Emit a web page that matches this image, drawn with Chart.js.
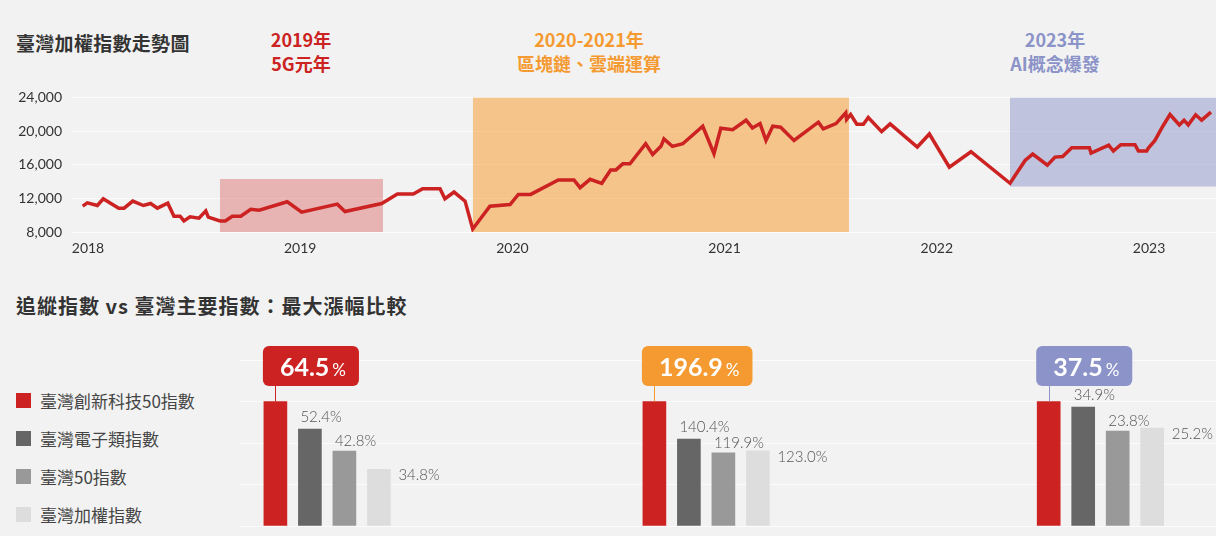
<!DOCTYPE html>
<html lang="zh-Hant">
<head>
<meta charset="utf-8">
<script src="https://cdn.jsdelivr.net/npm/chart.js@4.4.1/dist/chart.umd.min.js"></script>
<style>
  body { margin: 0; background: #f2f2f2; font-family: "Noto Sans CJK TC", "Noto Sans", sans-serif; }
  #page { position: relative; width: 1216px; height: 536px; overflow: hidden; }
  .title { position: absolute; left: 16px; font-weight: 700; color: #333; line-height: 24px; white-space: nowrap; }
  .period { position: absolute; top: 27px; font-size: 18px; font-weight: 700; line-height: 24px; text-align: center; white-space: nowrap; transform: translateX(-50%); }
  .legend { position: absolute; left: 16px; top: 388px; }
  .legend div { display: flex; align-items: center; height: 24px; margin-bottom: 14px; font-size: 17px; color: #444; }
  .legend span { display: inline-block; width: 15px; height: 15px; margin-right: 9px; }
  canvas { position: absolute; }
</style>
</head>
<body>
<div id="page">
  <div class="title" style="top:31px;font-size:19px;letter-spacing:0.3px">臺灣加權指數走勢圖</div>
  <div id="periods"></div>
  <canvas id="trend" width="1216" height="181" style="left:0;top:79px"></canvas>

  <div class="title" style="top:294px;font-size:20px;letter-spacing:1px">追縱指數 vs 臺灣主要指數：最大漲幅比較</div>
  <div class="legend" id="legend"></div>
  <canvas id="gain0" width="397" height="188" style="left:240px;top:340px"></canvas>
  <canvas id="gain1" width="388" height="188" style="left:637px;top:340px"></canvas>
  <canvas id="gain2" width="191" height="188" style="left:1025px;top:340px"></canvas>
</div>
<script>
// 臺灣加權指數 (decimal year, index level)
const trendDates = [
  2017.975, 2017.997, 2018.044, 2018.072, 2018.108, 2018.145, 2018.170, 2018.211, 2018.261, 2018.295,
  2018.327, 2018.376, 2018.405, 2018.434, 2018.452, 2018.481, 2018.523, 2018.555, 2018.567, 2018.622,
  2018.647, 2018.680, 2018.720, 2018.767, 2018.807, 2018.939, 2019.007, 2019.175, 2019.211, 2019.384,
  2019.458, 2019.533, 2019.577, 2019.659, 2019.682, 2019.725, 2019.777, 2019.813, 2019.894, 2019.989,
  2020.028, 2020.086, 2020.216, 2020.290, 2020.319, 2020.366, 2020.421, 2020.463, 2020.488, 2020.520,
  2020.554, 2020.628, 2020.661, 2020.700, 2020.714, 2020.754, 2020.803, 2020.897, 2020.950, 2020.982,
  2021.038, 2021.101, 2021.131, 2021.167, 2021.195, 2021.227, 2021.264, 2021.327, 2021.442, 2021.465,
  2021.525, 2021.571, 2021.575, 2021.594, 2021.623, 2021.654, 2021.677, 2021.740, 2021.780, 2021.908,
  2021.965, 2022.059, 2022.161, 2022.345, 2022.416, 2022.452, 2022.521, 2022.557, 2022.593, 2022.636,
  2022.719, 2022.727, 2022.810, 2022.832, 2022.867, 2022.934, 2022.950, 2022.989, 2022.997, 2023.028,
  2023.065, 2023.099, 2023.143, 2023.165, 2023.185, 2023.220, 2023.248, 2023.292,
];
const trendValues = [
  11070, 11470, 11150, 11950, 11390, 10830, 10830, 11670, 11150, 11390,
  10830, 11430, 9880, 9880, 9320, 9800, 9640, 10510, 9760, 9320,
  9320, 9880, 9880, 10710, 10590, 11590, 10350, 11310, 10430, 11390,
  12510, 12510, 13150, 13150, 11950, 12750, 11670, 8360, 11070, 11270,
  12470, 12470, 14190, 14190, 13270, 14260, 13790, 15380, 15380, 16100,
  16100, 18490, 17220, 18180, 19050, 18180, 18490, 20570, 17300, 20330,
  20170, 21290, 20370, 20890, 18890, 20570, 20450, 18890, 21050, 20250,
  20890, 22170, 21370, 21970, 20810, 20810, 21610, 19930, 20850, 18100,
  19650, 15700, 17540, 13790, 16500, 17260, 15940, 16900, 16980, 18020,
  18020, 17380, 18330, 17620, 18370, 18370, 17620, 17620, 17980, 18890,
  20570, 21970, 20730, 21290, 20730, 21930, 21290, 22250,
];

// highlighted periods
const periodTitles = [["2019年", "5G元年"], ["2020-2021年", "區塊鏈、雲端運算"], ["2023年", "AI概念爆發"]];
const periodStart = [2018.622, 2019.814, 2022.345];
const periodEnd = [2019.390, 2021.586, 2023.316];
const periodLow = [8000, 8000, 13400];
const periodHigh = [14300, 24000, 24000];
const periodColors = ["#cc2222", "#f59a30", "#8b93c8"];
const periodFills = ["rgba(204,34,34,0.3)", "rgba(245,154,48,0.53)", "rgba(139,147,200,0.5)"];

// max gain per period (%)
const indexNames = ["臺灣創新科技50指數", "臺灣電子類指數", "臺灣50指數", "臺灣加權指數"];
const indexColors = ["#cc2222", "#666666", "#999999", "#dddddd"];
const gains2019 = [64.5, 52.4, 42.8, 34.8];
const gains2020 = [196.9, 140.4, 119.9, 123.0];
const gains2023 = [37.5, 34.9, 23.8, 25.2];

Chart.defaults.font.family = "Lato, 'Noto Sans', sans-serif";

const gridColor = "#fbfbfb";
const periodLabelX = [301, 589, 1055];

function renderPeriodTitles() {
  document.getElementById("periods").innerHTML = periodTitles
    .map((t, i) => `<div class="period" style="left:${periodLabelX[i]}px;color:${periodColors[i]}">${t[0]}<br>${t[1]}</div>`)
    .join("");
}

function renderLegend() {
  document.getElementById("legend").innerHTML = indexNames
    .map((n, i) => `<div><span style="background:${indexColors[i]}"></span>${n}</div>`)
    .join("");
}

const periodBoxes = {
  id: "periodBoxes",
  beforeDatasetsDraw(chart) {
    const { ctx, chartArea, scales } = chart;
    ctx.save();
    ctx.beginPath();
    ctx.rect(chartArea.left, chartArea.top, chartArea.width, chartArea.height);
    ctx.clip();
    periodStart.forEach((s, i) => {
      const x0 = scales.x.getPixelForValue(s);
      const x1 = scales.x.getPixelForValue(periodEnd[i]);
      const y0 = scales.y.getPixelForValue(periodHigh[i]);
      const y1 = scales.y.getPixelForValue(periodLow[i]);
      ctx.fillStyle = periodFills[i];
      ctx.fillRect(x0, y0, x1 - x0, y1 - y0);
    });
    ctx.restore();
  },
};

function makeTrendChart() {
  new Chart(document.getElementById("trend"), {
    type: "line",
    data: {
      datasets: [{
        data: trendDates.map((d, i) => ({ x: d, y: trendValues[i] })),
        borderColor: "#cc2222",
        borderWidth: 3.5,
        pointRadius: 0,
        tension: 0,
      }],
    },
    options: {
      responsive: false,
      animation: false,
      layout: { padding: { top: 10, right: 0, bottom: 0, left: 0 } },
      plugins: { legend: { display: false }, tooltip: { enabled: false } },
      scales: {
        x: {
          type: "linear",
          min: 2017.9246,
          max: 2023.3157,
          grid: { display: false },
          border: { display: false },
          ticks: { stepSize: 1, includeBounds: false, padding: 0, color: "#333", font: { size: 14 }, callback: (v) => String(v) },
          afterFit: (s) => { s.height = 28; },
        },
        y: {
          min: 8000,
          max: 24000,
          grid: { color: gridColor, drawTicks: false },
          border: { display: false },
          ticks: { stepSize: 4000, padding: 10, color: "#333", font: { size: 14 }, callback: (v) => v.toLocaleString("en-US") },
          afterFit: (s) => { s.width = 72; },
        },
      },
    },
    plugins: [periodBoxes],
  });
}

const gainLabels = {
  id: "gainLabels",
  afterDatasetsDraw(chart, args, opts) {
    const { ctx } = chart;
    const bars = chart.getDatasetMeta(0).data;
    const values = chart.data.datasets[0].data.map((p) => p.y);
    ctx.save();
    ctx.font = "300 15px Lato, sans-serif";
    ctx.fillStyle = "#555";
    ctx.textBaseline = "middle";
    ctx.textAlign = "left";
    bars.forEach((bar, i) => {
      if (i === 0) return;
      const text = values[i].toFixed(1) + "%";
      const half = bar.width / 2;
      if (i === 3) ctx.fillText(text, bar.x + half + 8, bar.y + 6);
      else ctx.fillText(text, bar.x - half + 2, bar.y - (i === 1 ? 12 : 10));
    });

    // callout on the tracked index
    const red = bars[0];
    const big = values[0].toFixed(1);
    ctx.font = "bold 25px Lato, sans-serif";
    const bw = ctx.measureText(big).width;
    ctx.font = "17px Lato, sans-serif";
    const pw = ctx.measureText("%").width;
    const boxW = 17 + bw + 3 + pw + 13;
    const bx = red.x - red.width / 2 - 1;
    const by = 6;
    const bh = 40;
    ctx.strokeStyle = opts.color;
    ctx.lineWidth = 1;
    ctx.beginPath();
    ctx.moveTo(Math.round(red.x) + 0.5, by + bh);
    ctx.lineTo(Math.round(red.x) + 0.5, red.y);
    ctx.stroke();
    ctx.fillStyle = opts.color;
    ctx.beginPath();
    ctx.roundRect(bx, by, boxW, bh, 6);
    ctx.fill();
    ctx.fillStyle = "#fff";
    ctx.textBaseline = "alphabetic";
    ctx.font = "bold 25px Lato, sans-serif";
    ctx.fillText(big, bx + 17, by + 30);
    ctx.font = "17px Lato, sans-serif";
    ctx.fillText("%", bx + 17 + bw + 3, by + 30);
    ctx.restore();
  },
};

const barPitch = 34.5;
const gainGroups = [
  { data: gains2019, color: periodColors[0], lead: 35.4, axisMin: 10 },
  { data: gains2020, color: periodColors[1], lead: 17.4, axisMin: 10 },
  { data: gains2023, color: periodColors[2], lead: 23.7, axisMin: -20 },
];

function makeGainChart(g, i) {
  const canvas = document.getElementById("gain" + i);
  const axisMax = g.axisMin + ((g.data[0] - g.axisMin) * 4) / 3;
  const xMin = -g.lead / barPitch;
  new Chart(canvas, {
    type: "bar",
    data: {
      datasets: [{
        data: g.data.map((v, k) => ({ x: k, y: v })),
        backgroundColor: indexColors,
        barThickness: 23,
        base: g.axisMin,
      }],
    },
    options: {
      responsive: false,
      animation: false,
      layout: { padding: { top: 20, right: 0, bottom: 2, left: 0 } },
      plugins: { legend: { display: false }, tooltip: { enabled: false }, gainLabels: { color: g.color } },
      scales: {
        x: { type: "linear", display: false, offset: false, min: xMin, max: xMin + canvas.width / barPitch },
        y: {
          min: g.axisMin,
          max: axisMax,
          ticks: { display: false, count: 5 },
          grid: { color: gridColor, drawTicks: false },
          border: { display: false },
          afterFit: (s) => { s.width = 0; },
        },
      },
    },
    plugins: [gainLabels],
  });
}

renderPeriodTitles();
renderLegend();
makeTrendChart();
gainGroups.forEach(makeGainChart);
</script>
</body>
</html>
